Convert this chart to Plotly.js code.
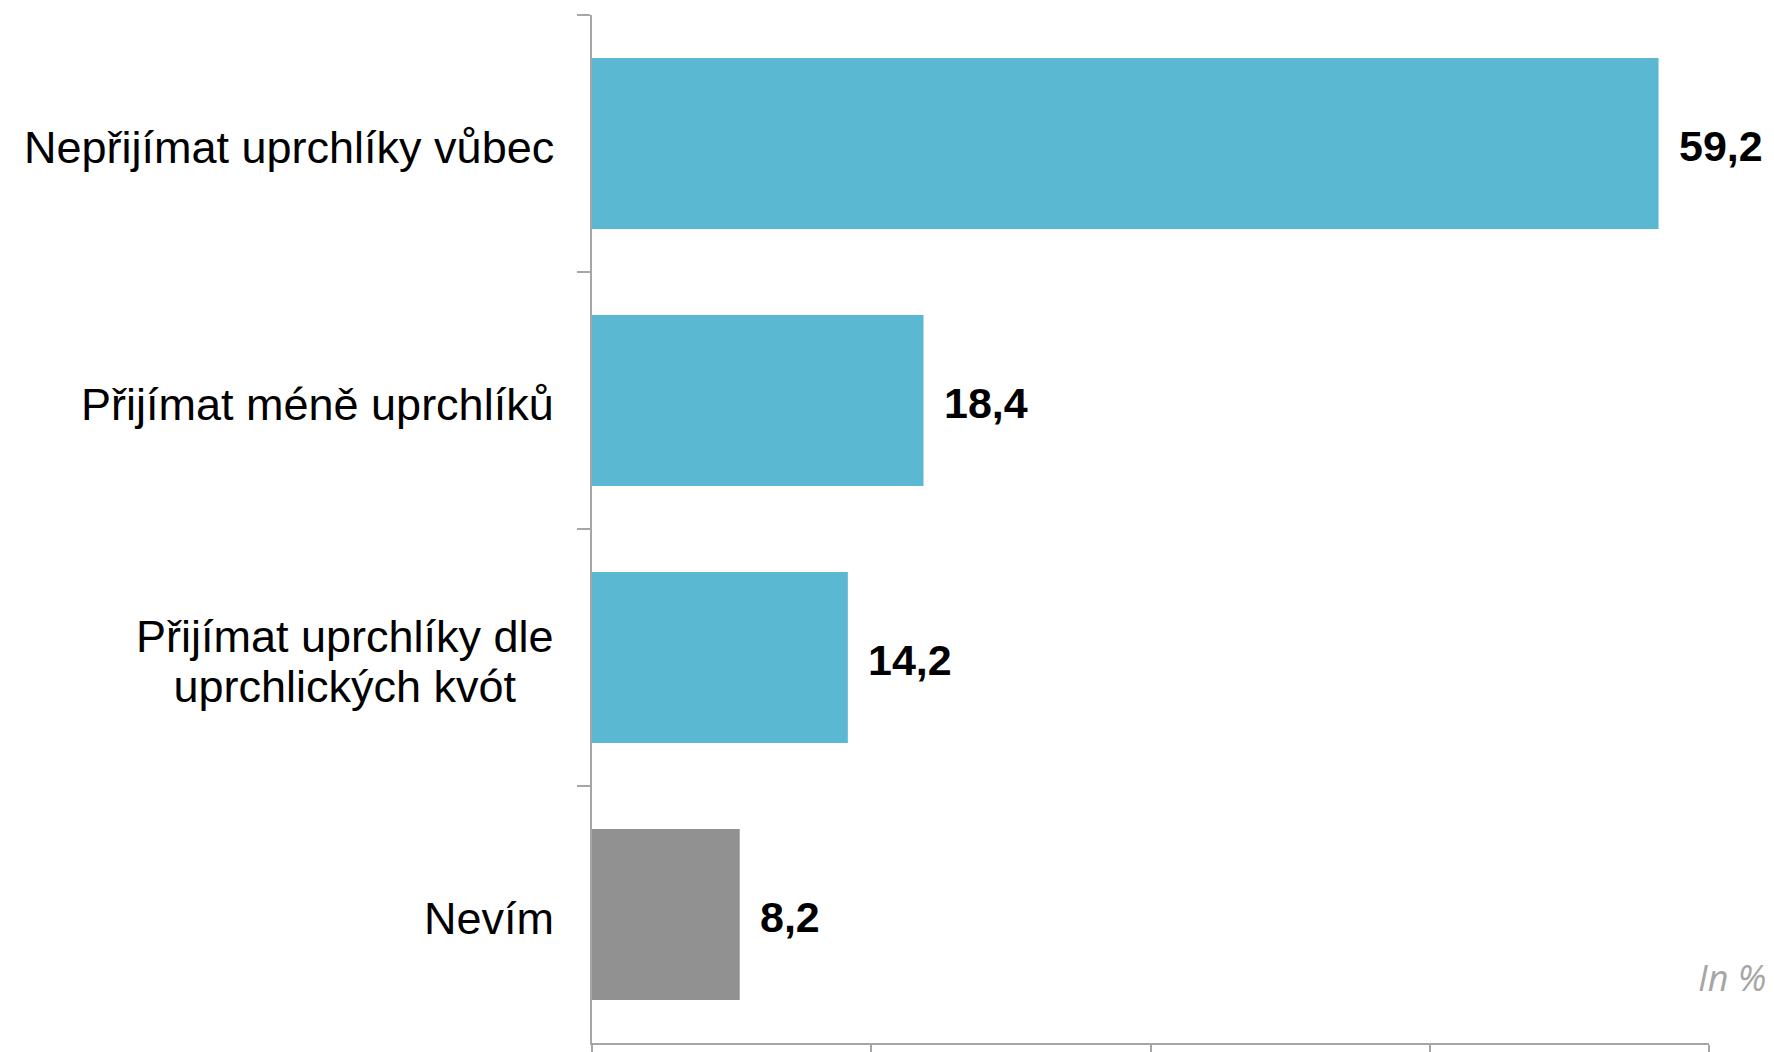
<!DOCTYPE html>
<html>
<head>
<meta charset="utf-8">
<script src="https://cdn.plot.ly/plotly-3.0.1.min.js"></script>
<style>html,body{margin:0;padding:0;background:#fff;}#chart{width:1774px;height:1052px;}</style>
</head>
<body>
<div id="chart"></div>
<script>
const categories = ["Nepřijímat uprchlíky vůbec", "Přijímat méně uprchlíků", "Přijímat uprchlíky dle<br>uprchlických kvót", "Nevím"];
const values = [59.2, 18.4, 14.2, 8.2];
const barColors = ["#5BB8D3", "#5BB8D3", "#5BB8D3", "#919191"];
const unitNote = "In %";

const fmt = v => v.toFixed(1).replace('.', ',');
const LABEL_SIZE = 45;
const LINE_EM = 1.1;

const trace = {
  type: 'bar',
  orientation: 'h',
  x: values,
  y: categories,
  marker: {color: barColors, line: {width: 0}},
  hoverinfo: 'none'
};

const annotations = [];
categories.forEach((c, i) => {
  const nLines = c.split('<br>').length;
  annotations.push({
    xref: 'paper', yref: 'y', x: 0, y: c,
    text: c, showarrow: false, xanchor: 'right', yanchor: 'middle',
    align: 'center', xshift: -36,
    yshift: -4 - (nLines - 1) * (1.3 - LINE_EM) * LABEL_SIZE / 2,
    font: {family: 'Liberation Sans, Arial, sans-serif', size: LABEL_SIZE, color: '#000'}
  });
  annotations.push({
    xref: 'x', yref: 'y', x: values[i], y: c,
    text: '<b>' + fmt(values[i]) + '</b>', showarrow: false,
    xanchor: 'left', yanchor: 'middle', xshift: 18, yshift: -2,
    font: {family: 'Liberation Sans, Arial, sans-serif', size: 43, color: '#000'}
  });
});
annotations.push({
  xref: 'paper', yref: 'paper', x: 1.0528, y: 0.064,
  text: '<i>' + unitNote + '</i>', showarrow: false, xanchor: 'right', yanchor: 'middle',
  font: {family: 'Open Sans, sans-serif', size: 36, color: '#A6A6A6'}
});

const layout = {
  width: 1774, height: 1052,
  margin: {l: 592, r: 65, t: 15, b: 9, pad: 0},
  paper_bgcolor: '#fff', plot_bgcolor: '#fff',
  showlegend: false,
  bargap: 0.335,
  separators: ', ',
  xaxis: {
    range: [0, 62], dtick: 15.5, tick0: 0,
    showgrid: false, zeroline: false,
    showline: true, linecolor: '#A6A6A6', linewidth: 2,
    ticks: 'outside', ticklen: 10, tickcolor: '#A6A6A6', tickwidth: 2,
    showticklabels: false, fixedrange: true
  },
  yaxis: {
    type: 'category', autorange: 'reversed',
    showgrid: false, zeroline: false,
    showline: true, linecolor: '#A6A6A6', linewidth: 2,
    ticks: 'outside', tickson: 'boundaries', ticklen: 13, tickcolor: '#A6A6A6', tickwidth: 2,
    showticklabels: false, fixedrange: true
  },
  annotations: annotations
};

Plotly.newPlot('chart', [trace], layout, {displayModeBar: false, staticPlot: true}).then(() => {
  document.querySelectorAll('.annotation-text tspan.line').forEach(t => {
    const dy = parseFloat(t.getAttribute('dy'));
    if (!isNaN(dy) && dy > 0) {
      t.setAttribute('dy', (Math.round(dy / 1.3) * LINE_EM) + 'em');
    }
  });
});
</script>
</body>
</html>
